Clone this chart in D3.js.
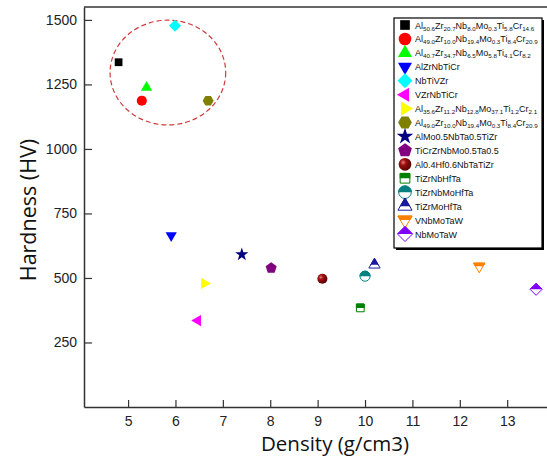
<!DOCTYPE html>
<html>
<head>
<meta charset="utf-8">
<script src="https://cdn.jsdelivr.net/npm/d3@7"></script>
<style>
  body { margin: 0; background: #fff; }
  svg { display: block; }
</style>
</head>
<body>
<svg id="chart" width="547" height="459"></svg>
<script>
// alloy names, "_{..}" marks a subscript
const names = [
  'Al_{50.6}Zr_{20.7}Nb_{8.0}Mo_{0.3}Ti_{5.8}Cr_{14.6}',
  'Al_{49.0}Zr_{10.0}Nb_{19.4}Mo_{0.3}Ti_{8.4}Cr_{20.9}',
  'Al_{40.7}Zr_{34.7}Nb_{6.5}Mo_{5.8}Ti_{4.1}Cr_{8.2}',
  'AlZrNbTiCr',
  'NbTiVZr',
  'VZrNbTiCr',
  'Al_{35.6}Zr_{11.2}Nb_{12.8}Mo_{37.1}Ti_{1.2}Cr_{2.1}',
  'Al_{49.0}Zr_{10.0}Nb_{19.4}Mo_{0.3}Ti_{8.4}Cr_{20.9}',
  'AlMo0.5NbTa0.5TiZr',
  'TiCrZrNbMo0.5Ta0.5',
  'Al0.4Hf0.6NbTaTiZr',
  'TiZrNbHfTa',
  'TiZrNbMoHfTa',
  'TiZrMoHfTa',
  'VNbMoTaW',
  'NbMoTaW'
];
const density = [4.80, 5.29, 5.39, 5.91, 5.99, 6.47, 6.61, 6.69, 7.40, 8.02, 9.10, 9.90, 10.00, 10.20, 12.41, 13.61];
const hardness = [1336, 1187, 1238, 665, 1477, 335, 479, 1187, 591, 538, 497, 384, 507, 551, 545, 456];
const colors = ['#000000', '#ff0000', '#00ff00', '#0000ff', '#00ffff', '#ff00ff', '#ffff00', '#808000',
  '#000080', '#800080', '#800000', '#008000', '#008080', '#1a1aa0', '#ff8000', '#8000ff'];
const shapes = ['square', 'circle', 'triUp', 'triDown', 'diamond', 'triLeft', 'triRight', 'hexagon',
  'star', 'pentagon', 'ball', 'squareHalf', 'circleHalf', 'triUpHalf', 'triDownHalf', 'diamondHalf'];

const xTicks = [5, 6, 7, 8, 9, 10, 11, 12, 13];
const yTicks = [250, 500, 750, 1000, 1250, 1500];
const xDomain = [4.07, 13.84];
const yDomain = [0, 1550];

// dashed ring around the Al-Zr-Nb-Mo-Ti-Cr group (data units)
const ring = { cx: 5.84, cy: 1296, rx: 1.22, ry: 203 };

const svg = d3.select('#chart');
const margin = { top: 7, right: 0, bottom: 52, left: 84 };
const W = 547, H = 459;

const x = d3.scaleLinear().domain(xDomain).range([margin.left, W - margin.right]);
const y = d3.scaleLinear().domain(yDomain).range([H - margin.bottom, margin.top]);

const defs = svg.append('defs');
defs.append('clipPath').attr('id', 'topHalf')
  .append('rect').attr('x', -30).attr('y', -30).attr('width', 60).attr('height', 30);
const grad = defs.append('radialGradient').attr('id', 'ballGrad')
  .attr('cx', '35%').attr('cy', '35%').attr('r', '65%');
grad.append('stop').attr('offset', '0%').attr('stop-color', '#e08080');
grad.append('stop').attr('offset', '35%').attr('stop-color', '#a01010');
grad.append('stop').attr('offset', '100%').attr('stop-color', '#5a0000');

function polygon(n, r, rot) {
  const pts = d3.range(n).map(i => {
    const a = rot + i * 2 * Math.PI / n;
    return [r * Math.cos(a), r * Math.sin(a)];
  });
  return 'M' + pts.map(p => p.join(',')).join('L') + 'Z';
}

function triangle(r, dir) {
  // dir: angle where the point aims
  return polygon(3, r, dir);
}

function shapePath(shape, k) {
  const base = shape.replace('Half', '');
  switch (base) {
    case 'square': return d3.symbol(d3.symbolSquare, 60 * k * k)();
    case 'circle': return d3.symbol(d3.symbolCircle, 80 * k * k)();
    case 'ball': return d3.symbol(d3.symbolCircle, 80 * k * k)();
    case 'triUp': return triangle(6.5 * k, -Math.PI / 2);
    case 'triDown': return triangle(6.5 * k, Math.PI / 2);
    case 'triLeft': return triangle(6.5 * k, Math.PI);
    case 'triRight': return triangle(6.5 * k, 0);
    case 'diamond': return polygon(4, 6 * k, -Math.PI / 2);
    case 'hexagon': return polygon(6, 5.5 * k, 0);
    case 'pentagon': return polygon(5, 5.8 * k, -Math.PI / 2);
    case 'star': return d3.symbol(d3.symbolStar, 55 * k * k)();
    default: return d3.symbol(d3.symbolCircle, 60 * k * k)();
  }
}

function drawMarker(g, shape, color, k) {
  const d = shapePath(shape, k);
  if (shape.endsWith('Half')) {
    g.append('path').attr('d', d).attr('fill', '#fff')
      .attr('stroke', color).attr('stroke-width', 1);
    g.append('path').attr('d', d).attr('fill', color)
      .attr('stroke', color).attr('stroke-width', 1)
      .attr('clip-path', 'url(#topHalf)');
  } else if (shape === 'ball') {
    g.append('path').attr('d', d).attr('fill', 'url(#ballGrad)');
  } else {
    g.append('path').attr('d', d).attr('fill', color);
  }
}

// axes frame
const axisColor = '#333';
svg.append('line').attr('x1', margin.left).attr('x2', W)
  .attr('y1', margin.top).attr('y2', margin.top)
  .attr('stroke', axisColor).attr('stroke-width', 1.5);

const xAxis = svg.append('g')
  .attr('transform', `translate(0,${H - margin.bottom})`)
  .call(d3.axisBottom(x).tickValues(xTicks).tickFormat(d3.format('d'))
    .tickSizeInner(-7).tickSizeOuter(0).tickPadding(9));
const yAxis = svg.append('g')
  .attr('transform', `translate(${margin.left},0)`)
  .call(d3.axisLeft(y).tickValues(yTicks).tickFormat(d3.format('d'))
    .tickSizeInner(-8).tickSizeOuter(0).tickPadding(7));

[xAxis, yAxis].forEach((a) => {
  a.select('.domain').attr('stroke', axisColor).attr('stroke-width', 1.5);
  a.selectAll('.tick line').attr('stroke', axisColor).attr('stroke-width', 1.2);
  a.selectAll('.tick text').attr('fill', '#222')
    .style('font-family', '"Liberation Sans", Arial, sans-serif').style('font-size', '14px');
});

// axis titles
svg.append('text')
  .attr('x', 335).attr('y', 451)
  .attr('text-anchor', 'middle')
  .style('font-family', '"Open Sans", "Noto Sans", sans-serif')
  .style('font-size', '20.5px')
  .attr('fill', '#111')
  .text('Density (g/cm3)');
svg.append('text')
  .attr('transform', 'translate(36,210) rotate(-90)')
  .attr('text-anchor', 'middle')
  .style('font-family', '"Open Sans", "Noto Sans", sans-serif')
  .style('font-size', '21.5px')
  .attr('fill', '#111')
  .text('Hardness (HV)');

// dashed ring
svg.append('ellipse')
  .attr('cx', x(ring.cx)).attr('cy', y(ring.cy))
  .attr('rx', x(ring.cx + ring.rx) - x(ring.cx))
  .attr('ry', y(ring.cy - ring.ry) - y(ring.cy))
  .attr('fill', 'none')
  .attr('stroke', '#d03a3a').attr('stroke-width', 1.2)
  .attr('stroke-dasharray', '5,3');

// points
const pts = names.map((n, i) => ({ n, x: density[i], y: hardness[i], c: colors[i], s: shapes[i] }));
svg.append('g').selectAll('g')
  .data(pts)
  .enter()
  .append('g')
  .attr('transform', d => `translate(${x(d.x)},${y(d.y)})`)
  .each(function (d) { drawMarker(d3.select(this), d.s, d.c, 1); });

// legend
const lg = svg.append('g').attr('transform', 'translate(394,18)');
lg.append('rect').attr('x', 2).attr('y', 2).attr('width', 148).attr('height', 230).attr('fill', '#000');
lg.append('rect').attr('x', 0).attr('y', 0).attr('width', 148).attr('height', 230)
  .attr('fill', '#fff').attr('stroke', '#000').attr('stroke-width', 1.2);

const rowY = d3.scaleLinear().domain([0, names.length - 1]).range([7, 216]);
const rows = lg.selectAll('g.row')
  .data(pts)
  .enter()
  .append('g')
  .attr('class', 'row')
  .attr('transform', (d, i) => `translate(0,${rowY(i)})`);

rows.append('g').attr('transform', 'translate(11,0)')
  .each(function (d) { drawMarker(d3.select(this), d.s, d.c, 1.25); });

rows.append('text')
  .attr('x', 21).attr('y', 3.5)
  .style('font-family', '"Liberation Sans", Arial, sans-serif')
  .style('font-size', '9px')
  .attr('fill', '#111')
  .each(function (d) {
    const t = d3.select(this);
    const parts = d.n.match(/_\{[^}]+\}|[^_]+/g);
    parts.forEach((p) => {
      if (p.startsWith('_{')) {
        t.append('tspan').attr('baseline-shift', '-25%').style('font-size', '6.2px').text(p.slice(2, -1));
      } else {
        t.append('tspan').text(p);
      }
    });
  });
</script>
</body>
</html>
